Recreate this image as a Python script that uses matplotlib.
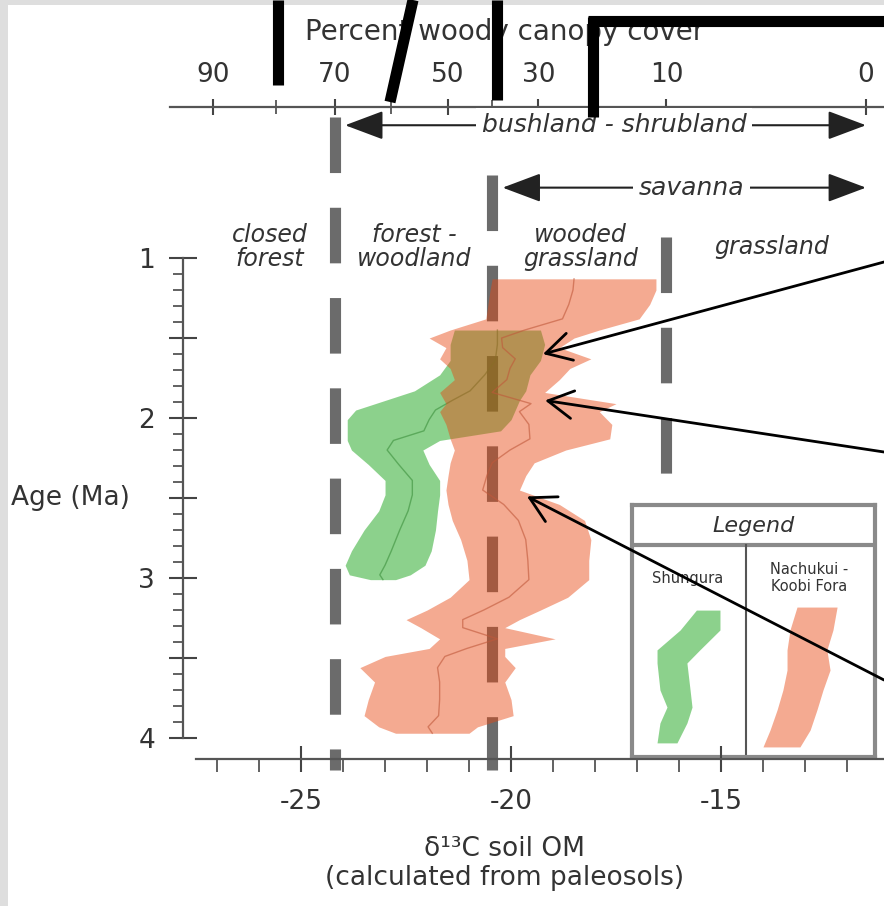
import numpy as np
import matplotlib.pyplot as plt
from matplotlib.lines import Line2D
from matplotlib.patches import Rectangle

plt.rcParams['font.family'] = 'DejaVu Sans'
plt.rcParams['axes.unicode_minus'] = False
plt.rcParams['lines.scale_dashes'] = False

# Nachukui - Koobi Fora band (age Ma, d13C low / high edge)
nk_age = [1.13, 1.20, 1.29, 1.38, 1.45, 1.50, 1.56, 1.63, 1.69, 1.76, 1.84, 1.91, 1.96,
          2.04, 2.13, 2.20, 2.28, 2.36, 2.45, 2.54, 2.64, 2.76, 2.89, 3.01, 3.12, 3.20,
          3.26, 3.31, 3.38, 3.44, 3.49, 3.56, 3.65, 3.76, 3.86, 3.93, 3.97]
nk_lo = [-20.45, -20.5, -20.55, -20.6, -21.45, -21.95, -21.55, -21.7, -21.45, -21.35, -21.7,
         -21.55, -21.7, -21.55, -21.45, -21.35, -21.45, -21.5, -21.55, -21.5, -21.4, -21.2,
         -21.05, -21.0, -21.45, -22.0, -22.5, -22.15, -21.7, -21.95, -23.0, -23.6, -23.25,
         -23.4, -23.5, -23.15, -22.75]
nk_hi = [-16.55, -16.55, -16.7, -16.95, -17.9, -18.5, -18.85, -18.1, -18.6, -18.85, -19.2,
         -17.5, -17.9, -17.6, -17.65, -18.7, -19.45, -19.65, -19.8, -18.85, -18.25, -18.1,
         -18.15, -18.15, -18.65, -19.3, -19.8, -20.15, -18.95, -20.15, -20.15, -19.9, -20.15,
         -20.0, -19.95, -20.8, -21.0]

# Shungura band
sh_age = [1.45, 1.54, 1.64, 1.73, 1.83, 1.89, 1.95, 2.01, 2.08, 2.14, 2.20, 2.29, 2.39,
          2.48, 2.58, 2.70, 2.83, 2.92, 2.98, 3.01]
sh_lo = [-21.35, -21.45, -21.45, -21.7, -22.3, -23.0, -23.7, -23.9, -23.9, -23.9, -23.8,
         -23.4, -23.0, -23.0, -23.15, -23.5, -23.8, -23.95, -23.85, -23.35]
sh_hi = [-19.3, -19.2, -19.3, -19.55, -19.65, -19.8, -19.9, -20.0, -20.25, -21.7, -22.1,
         -21.95, -21.7, -21.7, -21.75, -21.8, -21.9, -22.05, -22.4, -22.75]

# vegetation boundaries (70 %, 40 %, 10 % woody cover)
bound_d13c = [-24.2, -20.45, -16.3]
bound_top = [0.12, 0.48, 0.87]
bound_bottom = [4.2, 4.2, 2.37]

# top axis: percent woody canopy cover
canopy_pct = [90, 70, 50, 30, 10, 0]
canopy_d13c = [-27.1, -24.2, -21.5, -19.35, -16.3, -11.55]
canopy_minor = [-25.6, -22.85, -20.45, -17.95]

zones = ['closed\nforest', 'forest -\nwoodland', 'wooded\ngrassland', 'grassland']
zone_x = [-25.75, -22.3, -18.35, -13.8]

# little legend sketches (legend cell units, 0-100)
mini_sh_y = [41.7, 49.6, 57.5, 62.7, 73.4, 80.2, 86.5, 94.4]
mini_sh_lo = [26.5, 19.8, 10.3, 10.3, 11.5, 14.4, 11.5, 10.3]
mini_sh_hi = [36.2, 36.2, 27.9, 22.6, 23.9, 24.7, 22.6, 18.5]
mini_nk_y = [40.5, 49.6, 57.5, 65.5, 73.4, 81.3, 89.3, 96.0]
mini_nk_lo = [67.9, 65.0, 63.8, 63.8, 62.1, 59.7, 56.8, 53.9]
mini_nk_hi = [84.4, 82.7, 80.2, 81.5, 78.6, 76.1, 73.3, 69.1]

W, H = 884, 906
txt = '#333333'
green = '#1aa51a'
orange = '#e74610'

fig = plt.figure(figsize=(W / 100, H / 100), dpi=100, facecolor='white')
# light grey frame on the left and top edge
fig.add_artist(Rectangle((0, 0), 8 / W, 1, transform=fig.transFigure, color='#dedede', lw=0))
fig.add_artist(Rectangle((0, 1 - 5 / H), 1, 5 / H, transform=fig.transFigure, color='#dedede', lw=0))

ax = fig.add_axes([170 / W, 1 - 759 / H, 714 / W, 652 / H])
ax.set_facecolor('none')
ax.set_zorder(2)
ax.set_xlim(-28.12, -11.12)
ax.set_ylim(4.131, 0.056)

for b, t, e in zip(bound_d13c, bound_top, bound_bottom):
    ax.plot([b, b], [t, e], color='#6b6b6b', lw=8, dashes=(40, 25),
            solid_capstyle='butt', dash_capstyle='butt', clip_on=False, zorder=1)

ax.fill_betweenx(sh_age, sh_lo, sh_hi, color=green, alpha=0.5, lw=0, zorder=2)
ax.plot((np.array(sh_lo) + np.array(sh_hi)) / 2, sh_age, color='#3b8f3b', lw=1, alpha=0.6, zorder=2)
ax.fill_betweenx(nk_age, nk_lo, nk_hi, color=orange, alpha=0.46, lw=0, zorder=3)
ax.plot((np.array(nk_lo) + np.array(nk_hi)) / 2, nk_age, color='#c0583a', lw=1, alpha=0.6, zorder=3)

for s in ['top', 'right']:
    ax.spines[s].set_visible(False)
ax.spines['left'].set_position(('data', -27.81))
ax.spines['left'].set_bounds(1, 4)
ax.spines['bottom'].set_bounds(-27.5, -11.12)
for s in ['left', 'bottom']:
    ax.spines[s].set_color('#555555')
    ax.spines[s].set_linewidth(1.6)

ax.set_yticks([1, 1.5, 2, 2.5, 3, 3.5, 4], labels=['1', '', '2', '', '3', '', '4'])
ax.set_yticks(np.round(np.arange(10, 41) / 10, 1), minor=True)
ax.set_xticks([-25, -20, -15], labels=['-25', '-20', '-15'])
ax.set_xticks(np.arange(-27, -11), minor=True)
ax.tick_params(axis='y', which='major', direction='inout', length=20, width=1.5,
               color='#444444', labelsize=19, labelcolor=txt, pad=10)
ax.tick_params(axis='y', which='minor', direction='out', length=7, width=1.3, color='#555555')
ax.tick_params(axis='x', which='major', direction='inout', length=19, width=1.5,
               color='#444444', labelsize=19, labelcolor=txt, pad=12)
ax.tick_params(axis='x', which='minor', direction='out', length=9, width=1.3, color='#555555')

ax.set_ylabel('Age (Ma)', rotation=0, fontsize=19, color=txt, ha='center', va='center')
ax.yaxis.set_label_coords(-0.139, 0.400)
ax.set_xlabel('δ¹³C soil OM\n(calculated from paleosols)', fontsize=19, color=txt,
              linespacing=1.15, va='top')
ax.xaxis.set_label_coords(0.469, -0.118)

top = ax.secondary_xaxis('top')
top.set_xticks(canopy_d13c, labels=[str(p) for p in canopy_pct])
top.set_xticks(canopy_minor, minor=True)
top.spines['top'].set_color('#555555')
top.spines['top'].set_linewidth(1.6)
top.tick_params(which='major', direction='inout', length=12, width=1.5, color='#444444',
                labelsize=19, labelcolor=txt, pad=8)
top.tick_params(which='minor', direction='inout', length=10, width=1.3, color='#555555')
fig.text(505 / W, 1 - 32 / H, 'Percent woody canopy cover', fontsize=20, color=txt,
         ha='center', va='center')

for z, zx in zip(zones, zone_x):
    ax.text(zx, 0.93, z, fontsize=17, style='italic', color=txt, ha='center', va='center',
            linespacing=1.0, zorder=5)

arrow_kw = dict(arrowstyle='<|-|>,head_length=1.2,head_width=0.45', mutation_scale=20,
                lw=1.5, color='#222222', shrinkA=0, shrinkB=0)
ax.annotate('', xy=(-11.55, 0.17), xytext=(-23.95, 0.17), arrowprops=arrow_kw,
            annotation_clip=False)
ax.annotate('', xy=(-11.55, 0.56), xytext=(-20.2, 0.56), arrowprops=arrow_kw,
            annotation_clip=False)
ax.text(-17.55, 0.17, 'bushland - shrubland', fontsize=18, style='italic', color=txt,
        ha='center', va='center', zorder=5,
        bbox=dict(facecolor='white', edgecolor='none', pad=4))
ax.text(-15.7, 0.56, 'savanna', fontsize=18, style='italic', color=txt,
        ha='center', va='center', zorder=5,
        bbox=dict(facecolor='white', edgecolor='none', pad=4))

# legend box (kept under the main axes so the pointer arrow crosses it)
leg = fig.add_axes([632 / W, 1 - 757 / H, 243 / W, 252 / H])
leg.set_zorder(1)
leg.set_xlim(0, 100)
leg.set_ylim(100, 0)
leg.set_xticks([])
leg.set_yticks([])
for s in leg.spines.values():
    s.set_color('#8a8a8a')
    s.set_linewidth(3)
leg.axhline(16, color='#8a8a8a', lw=3)
leg.axvline(47, ymin=0, ymax=0.84, color='#555555', lw=1.5)
leg.text(50, 8.5, 'Legend', fontsize=16, style='italic', color=txt, ha='center', va='center')
leg.text(23, 29, 'Shungura', fontsize=10.5, color=txt, ha='center', va='center')
leg.text(73, 29, 'Nachukui -\nKoobi Fora', fontsize=10.5, color=txt, ha='center',
         va='center', linespacing=1.1)
leg.fill_betweenx(mini_sh_y, mini_sh_lo, mini_sh_hi, color=green, alpha=0.5, lw=0)
leg.fill_betweenx(mini_nk_y, mini_nk_lo, mini_nk_hi, color=orange, alpha=0.46, lw=0)

# hand-drawn black marks over the figure
for (x0, y0), (x1, y1) in [((278, 0), (278, 85)), ((413, 0), (390, 102)),
                           ((497, 0), (497, 100)), ((588, 21), (884, 21)),
                           ((593, 17), (593, 117))]:
    fig.add_artist(Line2D([x0 / W, x1 / W], [1 - y0 / H, 1 - y1 / H], transform=fig.transFigure,
                          color='black', lw=8, solid_capstyle='butt', zorder=5))

# pointer arrows into the overlap zone
for (hx, hy), ty in [((-19.24, 1.60), 262), ((-19.19, 1.89), 452), ((-19.62, 2.49), 680)]:
    ax.annotate('', xy=(hx, hy), xycoords='data', xytext=(884, H - ty),
                textcoords='figure pixels', annotation_clip=False,
                arrowprops=dict(arrowstyle='->,head_length=0.45,head_width=0.25',
                                mutation_scale=40, lw=2, color='black',
                                shrinkA=0, shrinkB=0))

plt.savefig('out.png', dpi=100)
